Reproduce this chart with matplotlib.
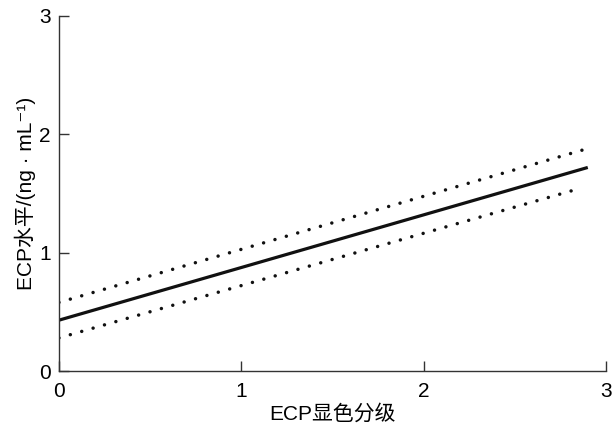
import numpy as np
import matplotlib
matplotlib.use('Agg')
import matplotlib.pyplot as plt

plt.rcParams['font.family'] = ['Liberation Sans', 'Noto Sans CJK SC', 'DejaVu Sans']

# data
x_fit = [0, 2.9]
y_fit = [0.43, 1.72]
x_upper = [0, 2.9]
y_upper = [0.58, 1.88]
x_lower = [0, 2.85]
y_lower = [0.28, 1.54]

x_ticks = [0, 1, 2, 3]
y_ticks = [0, 1, 2, 3]
x_label = 'ECP显色分级'
y_label = 'ECP水平/(ng · mL⁻¹)'

fig = plt.figure(figsize=(6.14, 4.3), dpi=100)
ax = fig.add_axes([0.096, 0.137, 0.891, 0.826])

ax.plot(x_fit, y_fit, color='#111111', lw=2.3, solid_capstyle='butt')
dot = (0, (0.01, 3.4))
ax.plot(x_upper, y_upper, color='#111111', lw=2.5, linestyle=dot, dash_capstyle='round')
ax.plot(x_lower, y_lower, color='#111111', lw=2.5, linestyle=dot, dash_capstyle='round')

ax.set_xlim(0, 3)
ax.set_ylim(0, 3)
ax.set_xticks(x_ticks)
ax.set_yticks(y_ticks)
ax.tick_params(direction='in', length=7, width=1, labelsize=15, color='#333333', pad=6)
ax.tick_params(axis='x', pad=8)
for s in ['top', 'right']:
    ax.spines[s].set_visible(False)
for s in ['left', 'bottom']:
    ax.spines[s].set_color('#333333')
    ax.spines[s].set_linewidth(1)

ax.set_xlabel(x_label, fontsize=15, labelpad=2)
ax.set_ylabel(y_label, fontsize=15, labelpad=2)

fig.savefig('out.png', dpi=100)
